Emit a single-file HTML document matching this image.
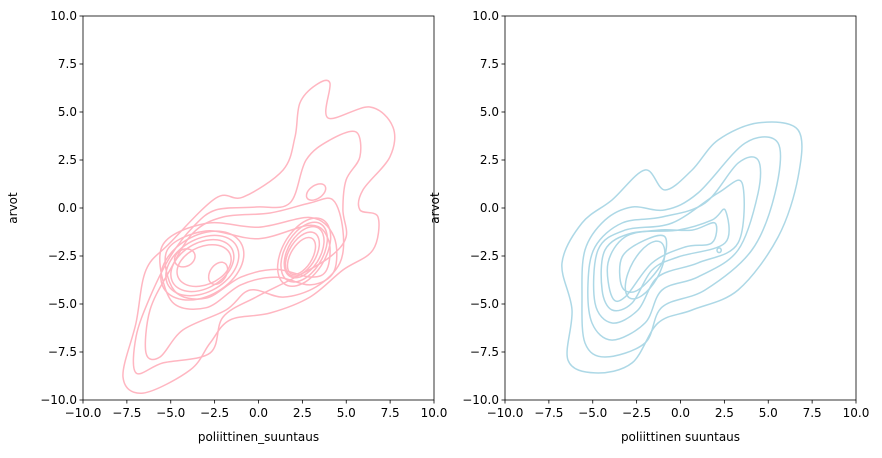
<!DOCTYPE html>
<html><head><meta charset="utf-8"><style>
body{margin:0;background:#fff;}
svg text{font-family:"DejaVu Sans","Liberation Sans",sans-serif;font-size:12px;fill:#000;}
</style></head><body>
<svg id="chart" width="882" height="453" viewBox="0 0 882 453" xmlns="http://www.w3.org/2000/svg"></svg>
<script>
const xTicks=[-10,-7.5,-5,-2.5,0,2.5,5,7.5,10];
const yTicks=[-10,-7.5,-5,-2.5,0,2.5,5,7.5,10];
const leftContours=[
 [[4.07,6.51],[3.96,4.69],[6.35,5.26],[7.66,4.22],[7.49,2.66],[5.95,0.94],[5.78,-0.10],[6.81,-0.47],[6.52,-2.19],[4.81,-3.23],[2.93,-4.64],[0.66,-5.47],[-1.62,-5.83],[-2.76,-7.03],[-3.90,-8.44],[-6.58,-9.64],[-7.72,-8.80],[-6.98,-5.99],[-6.41,-3.23],[-5.04,-1.82],[-2.42,0.52],[-0.88,0.57],[1.40,1.98],[2.08,3.70],[2.36,5.47],[3.28,6.41]],
 [[5.56,3.96],[5.78,2.66],[4.99,1.46],[4.81,-0.10],[4.99,-1.51],[4.07,-2.55],[2.14,-3.59],[-0.14,-4.64],[-2.02,-5.68],[-2.76,-7.55],[-5.44,-8.07],[-6.98,-8.59],[-6.98,-6.72],[-6.18,-4.64],[-5.04,-2.55],[-3.73,-0.99],[-2.42,-0.10],[-0.14,0.05],[1.79,0.26],[2.71,2.50],[4.07,3.54]],
 [[4.24,0.42],[4.81,-1.15],[4.64,-2.86],[3.28,-4.11],[1.40,-4.64],[-0.48,-4.27],[-1.85,-5.31],[-4.30,-6.35],[-5.61,-7.76],[-6.41,-7.55],[-6.18,-5.31],[-5.04,-3.23],[-3.73,-1.30],[-2.02,-0.47],[0.66,-0.26],[2.93,0.26]],
 [[-5.5,-2.0],[-3.0,-0.8],[0.0,-1.0],[3.0,-0.5],[4.3,-1.5],[4.3,-3.3],[3.0,-4.0],[1.0,-3.6],[-1.0,-4.0],[-3.0,-5.2],[-5.0,-4.8]],
 [[-5.2,-2.2],[-3.0,-1.2],[0.0,-1.6],[3.0,-0.9],[4.0,-1.7],[3.9,-3.2],[3.0,-3.6],[1.0,-3.2],[-1.0,-3.6],[-3.0,-4.7],[-4.8,-4.3]]
];
const leftEllipses=[
 [3.28,0.83,0.6,0.35,30],
 [-3.2,-3.0,2.5,1.6,25],[-3.2,-3.0,2.2,1.4,25],[-3.2,-3.0,1.9,1.2,25],[-3.1,-3.0,1.6,1.0,20],
 [-4.2,-2.6,0.6,0.45,20],[-2.3,-3.4,0.65,0.45,50],
 [2.6,-2.3,2.0,1.2,55],[2.6,-2.3,1.75,1.05,55],[2.6,-2.3,1.5,0.9,55],[2.5,-2.4,1.3,0.75,55],[2.45,-2.5,1.1,0.6,55]
];
const rightContours=[
 [[6.70,4.06],[6.70,1.61],[5.56,-1.51],[3.28,-4.27],[0.66,-5.31],[-1.28,-5.99],[-2.76,-8.07],[-4.87,-8.59],[-6.41,-7.92],[-6.18,-5.31],[-6.75,-2.86],[-5.61,-0.78],[-3.90,0.42],[-2.02,1.98],[-0.88,0.94],[0.66,1.98],[2.14,3.54],[4.42,4.43]],
 [[5.56,3.38],[5.39,0.78],[4.07,-2.19],[1.40,-4.27],[-1.05,-5.16],[-2.02,-7.03],[-4.30,-7.76],[-5.44,-7.03],[-5.61,-4.64],[-5.44,-2.19],[-4.30,-0.63],[-2.76,0.05],[-0.88,-0.10],[1.00,0.78],[3.68,3.38]],
 [[4.42,2.50],[4.42,0.78],[3.28,-2.19],[1.00,-3.59],[-1.05,-4.27],[-2.02,-5.99],[-3.90,-6.88],[-5.04,-5.99],[-5.27,-3.91],[-4.87,-2.03],[-3.33,-0.78],[-1.05,-0.47],[1.40,0.26],[3.28,2.34]],
 [[3.51,1.30],[3.28,-1.82],[1.00,-2.86],[-1.28,-3.59],[-2.42,-5.31],[-3.90,-5.99],[-4.87,-4.95],[-4.70,-2.19],[-3.16,-1.15],[-0.48,-0.78],[2.14,0.78]],
 [[2.54,-0.10],[2.54,-1.82],[-0.14,-2.55],[-1.62,-3.23],[-2.76,-4.95],[-3.90,-5.31],[-4.47,-4.27],[-4.30,-2.19],[-2.76,-1.30],[-0.14,-1.15],[1.79,-0.63]],
 [[1.96,-0.78],[1.79,-1.82],[0.26,-2.03],[-1.62,-2.86],[-3.16,-4.64],[-3.90,-4.64],[-4.13,-2.86],[-3.16,-1.51],[-1.28,-1.15],[0.66,-1.15]],
 [[-3.33,-2.55],[-2.02,-1.67],[-0.88,-1.51],[-1.05,-2.86],[-2.42,-4.27],[-3.33,-4.11]]
];
const rightEllipses=[[-2.02,-3.23,1.7,0.8,58],[2.2,-2.2,0.12,0.12,0]];

const svg=document.getElementById('chart');
const NS='http://www.w3.org/2000/svg';
function mk(tag,attrs,parent){const e=document.createElementNS(NS,tag);for(const k in attrs)e.setAttribute(k,attrs[k]);(parent||svg).appendChild(e);return e;}
function fmt(v){return (v<0?'\u2212':'')+Math.abs(v).toFixed(1);}
function smooth(pts){let d='';const n=pts.length;for(let i=0;i<n;i++){const p0=pts[(i-1+n)%n],p1=pts[i],p2=pts[(i+1)%n],p3=pts[(i+2)%n];if(i===0)d+='M'+p1[0].toFixed(1)+','+p1[1].toFixed(1);const c1=[p1[0]+(p2[0]-p0[0])/6,p1[1]+(p2[1]-p0[1])/6],c2=[p2[0]-(p3[0]-p1[0])/6,p2[1]-(p3[1]-p1[1])/6];d+='C'+c1.join(',')+' '+c2.join(',')+' '+p2[0].toFixed(1)+','+p2[1].toFixed(1);}return d+'Z';}
function panel(x0,x1,y0,y1,xlabel,contours,ellipses,color,name){
 const sx=v=>x0+(v+10)/20*(x1-x0), sy=v=>y1-(v+10)/20*(y1-y0);
 const g=mk('g',{});
 
 
 contours.forEach(c=>{const p=mk('path',{d:smooth(c.map(q=>[sx(q[0]),sy(q[1])])),fill:'none',stroke:color,'stroke-width':1.5},g);
  
  });
 ellipses.forEach(e=>{const pts=[];const a=e[4]*Math.PI/180;for(let k=0;k<16;k++){const t=k/16*2*Math.PI;const u=e[2]*Math.cos(t),v=e[3]*Math.sin(t);pts.push([sx(e[0]+u*Math.cos(a)-v*Math.sin(a)),sy(e[1]+u*Math.sin(a)+v*Math.cos(a))]);}
  const p=mk('path',{d:smooth(pts),fill:'none',stroke:color,'stroke-width':1.5},g);
  
  });
 const fr=mk('rect',{x:x0,y:y0,width:x1-x0,height:y1-y0,fill:'none',stroke:'#000','stroke-width':0.8},g);
 
 
 xTicks.forEach(v=>{mk('line',{x1:sx(v),x2:sx(v),y1:y1,y2:y1+3.5,stroke:'#000','stroke-width':0.8},g);
  const t=mk('text',{x:sx(v),y:y1+17,'text-anchor':'middle'},g);t.textContent=fmt(v);
  
  });
 yTicks.forEach(v=>{mk('line',{x1:x0-3.5,x2:x0,y1:sy(v),y2:sy(v),stroke:'#000','stroke-width':0.8},g);
  const t=mk('text',{x:x0-6,y:sy(v)+4,'text-anchor':'end'},g);t.textContent=fmt(v);
  
  });
 const xl=mk('text',{x:(x0+x1)/2,y:y1+41,'text-anchor':'middle'},g);xl.textContent=xlabel;
 
 
 const yl=mk('text',{x:0,y:0,'text-anchor':'middle',transform:'translate('+(x0-66)+','+((y0+y1)/2)+') rotate(-90)'},g);yl.textContent='arvot';
 
 
}
panel(83,434,16,400,'poliittinen_suuntaus',leftContours,leftEllipses,'#ffb6c1','left-kde-panel');
panel(505,856,16,400,'poliittinen suuntaus',rightContours,rightEllipses,'#add8e6','right-kde-panel');
</script>
</body></html>
